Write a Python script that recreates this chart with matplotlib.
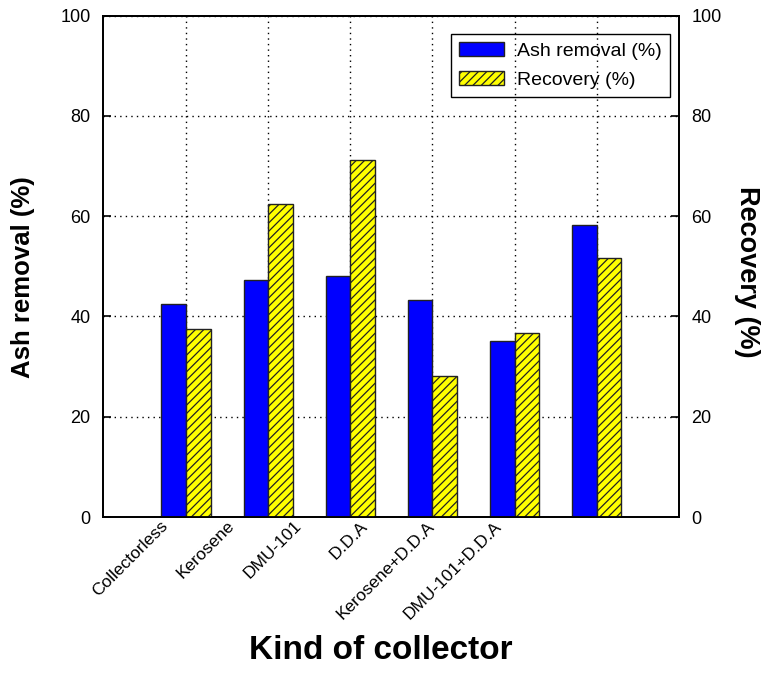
import matplotlib
matplotlib.use("Agg")
import matplotlib.pyplot as plt
import matplotlib.transforms as mtransforms
import numpy as np

plt.rcParams['font.family'] = ['Liberation Sans', 'DejaVu Sans']
plt.rcParams['hatch.linewidth'] = 0.9

categories = ["Collectorless", "Kerosene", "DMU-101", "D.D.A",
              "Kerosene+D.D.A", "DMU-101+D.D.A"]
ash_removal = [42.4, 47.3, 48.0, 43.2, 35.2, 58.3]
recovery = [37.5, 62.5, 71.2, 28.2, 36.8, 51.6]
y_ticks = [0, 20, 40, 60, 80, 100]

fig = plt.figure(figsize=(7.66, 6.77), dpi=100)
ax = fig.add_axes([0.1345, 0.2363, 0.7519, 0.7405])

x = np.arange(len(categories))
w = 0.3
ax.bar(x - w / 2, ash_removal, w, color="#0000ff", edgecolor="#222222",
       linewidth=1.0, label="Ash removal (%)", zorder=3)
ax.bar(x + w / 2, recovery, w, color="#ffff00", edgecolor="#222222",
       linewidth=1.0, hatch="////", label="Recovery (%)", zorder=3)

ax.set_xlim(-1.01, 6.0)
ax.set_ylim(0, 100)
ax.set_yticks(y_ticks)
ax.set_xticks(x)
ax.set_xticklabels(categories, rotation=45, ha="right", rotation_mode="anchor",
                   fontsize=12.5)
ax.tick_params(axis="x", length=0, pad=1)
ax.tick_params(axis="y", direction="in", length=6, width=1.2,
               labelsize=13, pad=9, right=False)

# shift the slanted labels progressively left
for i, lab in enumerate(ax.get_xticklabels()):
    dx = -(26 + 15.4 * i) / 100.0
    lab.set_transform(lab.get_transform() +
                      mtransforms.ScaledTranslation(dx, 0, fig.dpi_scale_trans))

ax.grid(True, color="black", linestyle=(0, (1, 3)), linewidth=1.0)
ax.set_axisbelow(True)
for s in ax.spines.values():
    s.set_linewidth(1.3)

ax2 = ax.twinx()
ax2.set_ylim(0, 100)
ax2.set_yticks(y_ticks)
ax2.tick_params(axis="y", direction="in", length=6, width=1.2,
                labelsize=13, pad=9)
for s in ax2.spines.values():
    s.set_linewidth(1.3)

ax.set_xlabel("Kind of collector", fontsize=24, fontweight="bold")
ax.xaxis.label.set_va("center")
ax.xaxis.set_label_coords(0.483, -0.267)

ax.set_ylabel("Ash removal (%)", fontsize=18.5, fontweight="bold")
ax.yaxis.label.set_va("center")
ax.yaxis.label.set_ha("center")
ax.yaxis.label.set_rotation_mode("default")
ax.yaxis.set_label_coords(-0.139, 0.479)

ax2.set_ylabel("Recovery (%)", fontsize=19.5, fontweight="bold", rotation=270)
ax2.yaxis.label.set_va("center")
ax2.yaxis.label.set_ha("center")
ax2.yaxis.label.set_rotation_mode("default")
ax2.yaxis.set_label_coords(1.118, 0.49)

leg = ax.legend(loc="upper right", bbox_to_anchor=(0.984, 0.963),
                borderaxespad=0, fontsize=14, fancybox=False,
                facecolor="none", edgecolor="black", framealpha=1,
                handlelength=2.3, handleheight=0.7,
                labelspacing=0.6, handletextpad=0.7, borderpad=0.4)
leg.get_frame().set_linewidth(1.0)
leg.set_zorder(10)

fig.savefig("out.png", dpi=100)
